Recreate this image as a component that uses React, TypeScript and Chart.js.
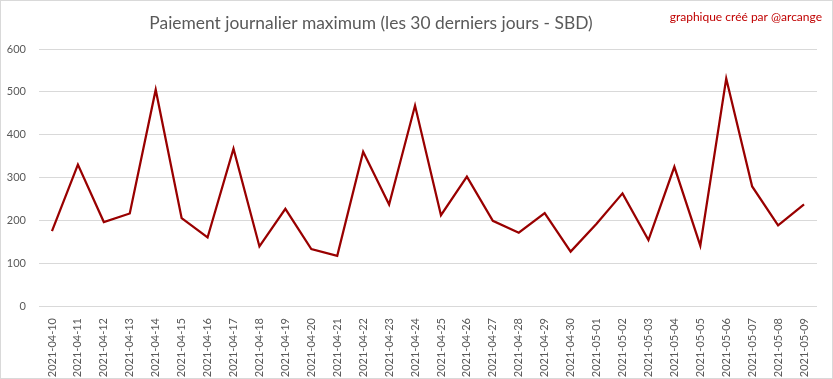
import React, { useEffect, useRef } from "react";
import { Chart, registerables } from "chart.js";

Chart.register(...registerables);

const TITLE = "Paiement journalier maximum (les 30 derniers jours - SBD)";
const CREDIT = "graphique créé par @arcange";

const dates = [
  "2021-04-10", "2021-04-11", "2021-04-12", "2021-04-13", "2021-04-14",
  "2021-04-15", "2021-04-16", "2021-04-17", "2021-04-18", "2021-04-19",
  "2021-04-20", "2021-04-21", "2021-04-22", "2021-04-23", "2021-04-24",
  "2021-04-25", "2021-04-26", "2021-04-27", "2021-04-28", "2021-04-29",
  "2021-04-30", "2021-05-01", "2021-05-02", "2021-05-03", "2021-05-04",
  "2021-05-05", "2021-05-06", "2021-05-07", "2021-05-08", "2021-05-09",
];

const maxPayout = [
  175, 330, 196, 216, 505, 205, 160, 367, 139, 227,
  133, 117, 360, 237, 468, 212, 302, 199, 171, 217,
  127, 192, 263, 154, 325, 141, 531, 279, 188, 237,
];

const yTicks = [0, 100, 200, 300, 400, 500, 600];

const FONT = "Lato, 'Open Sans', sans-serif";

const overlay = {
  id: "overlay",
  afterDraw(chart: any) {
    const { ctx, width, height } = chart;
    ctx.save();
    ctx.strokeStyle = "#d9d9d9";
    ctx.lineWidth = 1;
    ctx.strokeRect(0.5, 0.5, width - 1, height - 1);
    ctx.fillStyle = "#595959";
    ctx.font = `17.4px ${FONT}`;
    ctx.textAlign = "center";
    ctx.textBaseline = "middle";
    ctx.fillText(TITLE, 371, 23);
    ctx.fillStyle = "#c00000";
    ctx.font = `12px ${FONT}`;
    ctx.textAlign = "right";
    ctx.fillText(CREDIT, 822, 17);
    ctx.restore();
  },
};

export default function App() {
  const ref = useRef<HTMLCanvasElement | null>(null);
  useEffect(() => {
    document.body.style.margin = "0";
    const chart = new Chart(ref.current!, {
      type: "line",
      data: {
        labels: dates,
        datasets: [
          {
            data: maxPayout,
            borderColor: "#990000",
            borderWidth: 2.25,
            pointRadius: 0,
            tension: 0,
            fill: false,
          },
        ],
      },
      options: {
        animation: false,
        responsive: false,
        layout: { padding: { left: 0, right: 16, top: 49, bottom: 0 } },
        plugins: { legend: { display: false }, title: { display: false }, tooltip: { enabled: false } },
        scales: {
          x: {
            offset: true,
            grid: { display: false },
            border: { display: false },
            ticks: {
              color: "#595959",
              font: { family: FONT, size: 11 },
              maxRotation: 90,
              minRotation: 90,
              autoSkip: false,
              padding: 4,
            },
            afterFit: (s: any) => { s.height = 73; },
          },
          y: {
            min: 0,
            max: 600,
            afterBuildTicks: (s: any) => { s.ticks = yTicks.map((v) => ({ value: v })); },
            grid: { color: "#d9d9d9", drawTicks: false, lineWidth: 1 },
            border: { display: false },
            ticks: {
              color: "#595959",
              font: { family: FONT, size: 11 },
              padding: 13,
            },
            afterFit: (s: any) => { s.width = 39; },
          },
        },
      },
      plugins: [overlay],
    });
    return () => chart.destroy();
  }, []);
  return <canvas ref={ref} width={833} height={379} style={{ display: "block" }} />;
}
